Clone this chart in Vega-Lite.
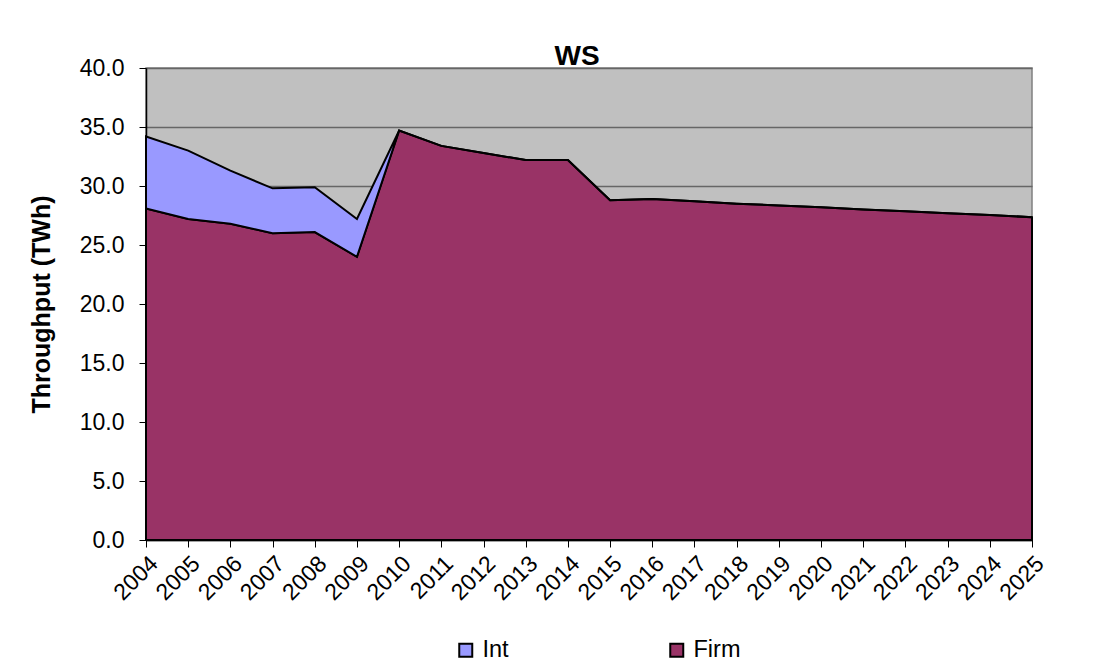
{
  "$schema": "https://vega.github.io/schema/vega-lite/v6.json",
  "width": 886,
  "height": 472,
  "autosize": "none",
  "padding": {"left": 146, "top": 68, "right": 78, "bottom": 128},
  "background": "white",
  "title": {"text": "WS", "font": "Liberation Sans", "fontSize": 28, "fontWeight": "bold", "color": "black", "anchor": "middle", "offset": -14, "dx": -12},
  "data": {"values": [
    {"year": "2004", "series": "Firm", "value": 28.1}, {"year": "2004", "series": "Int", "value": 6.1},
    {"year": "2005", "series": "Firm", "value": 27.2}, {"year": "2005", "series": "Int", "value": 5.8},
    {"year": "2006", "series": "Firm", "value": 26.8}, {"year": "2006", "series": "Int", "value": 4.5},
    {"year": "2007", "series": "Firm", "value": 26.0}, {"year": "2007", "series": "Int", "value": 3.8},
    {"year": "2008", "series": "Firm", "value": 26.1}, {"year": "2008", "series": "Int", "value": 3.8},
    {"year": "2009", "series": "Firm", "value": 24.0}, {"year": "2009", "series": "Int", "value": 3.2},
    {"year": "2010", "series": "Firm", "value": 34.7}, {"year": "2010", "series": "Int", "value": 0},
    {"year": "2011", "series": "Firm", "value": 33.4}, {"year": "2011", "series": "Int", "value": 0},
    {"year": "2012", "series": "Firm", "value": 32.8}, {"year": "2012", "series": "Int", "value": 0},
    {"year": "2013", "series": "Firm", "value": 32.2}, {"year": "2013", "series": "Int", "value": 0},
    {"year": "2014", "series": "Firm", "value": 32.2}, {"year": "2014", "series": "Int", "value": 0},
    {"year": "2015", "series": "Firm", "value": 28.8}, {"year": "2015", "series": "Int", "value": 0},
    {"year": "2016", "series": "Firm", "value": 28.9}, {"year": "2016", "series": "Int", "value": 0},
    {"year": "2017", "series": "Firm", "value": 28.7}, {"year": "2017", "series": "Int", "value": 0},
    {"year": "2018", "series": "Firm", "value": 28.5}, {"year": "2018", "series": "Int", "value": 0},
    {"year": "2019", "series": "Firm", "value": 28.35}, {"year": "2019", "series": "Int", "value": 0},
    {"year": "2020", "series": "Firm", "value": 28.2}, {"year": "2020", "series": "Int", "value": 0},
    {"year": "2021", "series": "Firm", "value": 28.0}, {"year": "2021", "series": "Int", "value": 0},
    {"year": "2022", "series": "Firm", "value": 27.85}, {"year": "2022", "series": "Int", "value": 0},
    {"year": "2023", "series": "Firm", "value": 27.7}, {"year": "2023", "series": "Int", "value": 0},
    {"year": "2024", "series": "Firm", "value": 27.55}, {"year": "2024", "series": "Int", "value": 0},
    {"year": "2025", "series": "Firm", "value": 27.35}, {"year": "2025", "series": "Int", "value": 0}
  ]},
  "mark": {"type": "area", "stroke": "black", "strokeWidth": 2, "strokeJoin": "miter", "opacity": 1},
  "encoding": {
    "x": {"field": "year", "type": "ordinal", "scale": {"type": "point", "padding": 0},
      "axis": {"title": null, "labelAngle": -45, "labelFont": "Liberation Sans", "labelFontSize": 23, "labelColor": "black", "labelPadding": 5, "tickColor": "black", "tickSize": 7, "domainColor": "black", "domainWidth": 1.5, "grid": false}},
    "y": {"field": "value", "type": "quantitative", "stack": "zero", "scale": {"domain": [0, 40], "nice": false},
      "axis": {"title": "Throughput (TWh)", "titleFont": "Liberation Sans", "titleFontSize": 25, "titleFontWeight": "bold", "titleColor": "black", "titlePadding": 25, "format": ".1f", "values": [0, 5, 10, 15, 20, 25, 30, 35, 40], "labelFont": "Liberation Sans", "labelFontSize": 23, "labelColor": "black", "labelPadding": 15, "tickColor": "black", "tickSize": 7, "domainColor": "black", "domainWidth": 1.5, "grid": true, "gridColor": "#666666", "gridWidth": 1.3}},
    "color": {"field": "series", "type": "nominal", "scale": {"domain": ["Int", "Firm"], "range": ["#9999FF", "#993366"]},
      "legend": {"title": null, "orient": "none", "legendX": 308, "legendY": 570, "direction": "horizontal", "symbolType": "square", "symbolSize": 169, "symbolStrokeColor": "black", "symbolStrokeWidth": 2, "symbolOpacity": 1, "labelFont": "Liberation Sans", "labelFontSize": 23.5, "labelColor": "black", "labelOffset": 5, "columnPadding": 156}},
    "order": {"field": "series", "sort": "ascending"}
  },
  "config": {
    "view": {"fill": "#C0C0C0", "stroke": "#808080", "strokeWidth": 1.5}
  }
}
